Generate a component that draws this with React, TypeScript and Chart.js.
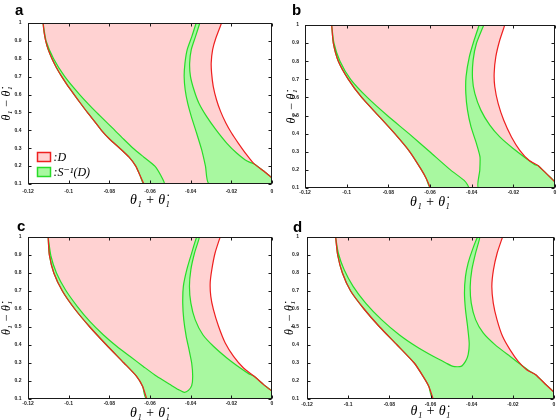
import React, { useEffect, useRef } from 'react';
import { Chart, registerables } from 'chart.js';

Chart.register(...registerables);

type Pt = [number, number];

// ---- axis ticks / labels ----
const xTickValues = [-0.12, -0.1, -0.08, -0.06, -0.04, -0.02, 0];
const xTickLabels = ['-0.12', '-0.1', '-0.08', '-0.06', '-0.04', '-0.02', '0'];
const yTickValues = [0.1, 0.2, 0.3, 0.4, 0.5, 0.6, 0.7, 0.8, 0.9, 1];
const yTickLabels = ['0.1', '0.2', '0.3', '0.4', '0.5', '0.6', '0.7', '0.8', '0.9', '1'];
const panelLetters = ['a', 'b', 'c', 'd'];
const seriesLabels = [':D', ':S\u207B\u00B9(D)'];
const xTitle = '\u03B8\u2081 + \u03B8\u0307\u2081';
const yTitle = '\u03B8\u2081 \u2212 \u03B8\u0307\u2081';

// ---- panel a ----
const aLeftRed: Pt[] = [[-0.1126, 1.0], [-0.1121, 0.95], [-0.1113, 0.9], [-0.11, 0.85], [-0.1082, 0.8], [-0.106, 0.75], [-0.1034, 0.7], [-0.1005, 0.65], [-0.0973, 0.6], [-0.0941, 0.55], [-0.0908, 0.5], [-0.0873, 0.45], [-0.0839, 0.4], [-0.0798, 0.35], [-0.0749, 0.3], [-0.0703, 0.25], [-0.067, 0.2], [-0.065, 0.15], [-0.063, 0.1]];
const aRightRed: Pt[] = [[0, 0.1335], [-0.0039, 0.1708], [-0.0089, 0.2137], [-0.0125, 0.264], [-0.0166, 0.329], [-0.0199, 0.385], [-0.0227, 0.441], [-0.0253, 0.506], [-0.0273, 0.571], [-0.0289, 0.646], [-0.0297, 0.72], [-0.0299, 0.776], [-0.0292, 0.851], [-0.0276, 0.916], [-0.0248, 1.0]];
const aGreenInner: Pt[] = [[-0.053, 0.1], [-0.0548, 0.15], [-0.0576, 0.2], [-0.063, 0.25], [-0.0683, 0.3], [-0.0729, 0.35], [-0.0773, 0.4], [-0.0863, 0.5], [-0.0946, 0.6], [-0.1019, 0.7], [-0.1074, 0.8], [-0.1111, 0.9], [-0.1126, 1.0]];
const aGreenMid: Pt[] = [[-0.0373, 1.0], [-0.0394, 0.925], [-0.0417, 0.851], [-0.0428, 0.776], [-0.0432, 0.702], [-0.0427, 0.627], [-0.0415, 0.553], [-0.0397, 0.478], [-0.0371, 0.385], [-0.0346, 0.292], [-0.0327, 0.199], [-0.0309, 0.1]];
const aGreenRight: Pt[] = [[-0.0355, 1.0], [-0.0376, 0.925], [-0.0397, 0.851], [-0.0405, 0.776], [-0.0401, 0.702], [-0.0384, 0.627], [-0.036, 0.553], [-0.0322, 0.478], [-0.0276, 0.404], [-0.0223, 0.329], [-0.0174, 0.273], [-0.0133, 0.236], [-0.0108, 0.221], [-0.0089, 0.2137]];

// ---- panel b ----
const bLeftRed: Pt[] = [[-0.1072, 1.0], [-0.1064, 0.9], [-0.104, 0.8], [-0.0992, 0.7], [-0.0928, 0.6], [-0.0848, 0.5], [-0.0769, 0.4], [-0.0697, 0.3], [-0.0641, 0.2], [-0.0617, 0.15], [-0.0598, 0.1]];
const bRightRed: Pt[] = [[0, 0.133], [-0.0041, 0.179], [-0.0079, 0.222], [-0.0125, 0.253], [-0.0169, 0.308], [-0.0209, 0.382], [-0.0246, 0.474], [-0.0273, 0.567], [-0.0289, 0.659], [-0.0292, 0.733], [-0.0284, 0.825], [-0.0265, 0.917], [-0.0241, 1.0]];
const bGreenInner: Pt[] = [[-0.0415, 0.1], [-0.042, 0.118], [-0.0436, 0.142], [-0.0502, 0.2], [-0.0601, 0.3], [-0.0701, 0.4], [-0.0805, 0.5], [-0.0901, 0.6], [-0.0981, 0.7], [-0.1032, 0.8], [-0.1061, 0.9], [-0.1072, 1.0]];
const bGreenMid: Pt[] = [[-0.0364, 1.0], [-0.0388, 0.917], [-0.0411, 0.825], [-0.0427, 0.714], [-0.0428, 0.622], [-0.042, 0.53], [-0.0403, 0.437], [-0.0377, 0.345], [-0.036, 0.272], [-0.0361, 0.198], [-0.0366, 0.1]];
const bGreenRight: Pt[] = [[-0.0342, 1.0], [-0.0377, 0.899], [-0.0393, 0.806], [-0.0396, 0.705], [-0.0385, 0.622], [-0.0356, 0.53], [-0.0313, 0.447], [-0.0265, 0.382], [-0.0201, 0.318], [-0.0137, 0.262], [-0.0097, 0.229], [-0.0079, 0.222]];

// ---- panel c ----
const cLeftRed: Pt[] = [[-0.1101, 1.0], [-0.1095, 0.9], [-0.1073, 0.8], [-0.1031, 0.7], [-0.097, 0.6], [-0.0896, 0.5], [-0.0814, 0.4], [-0.0728, 0.3], [-0.0666, 0.226], [-0.0636, 0.17], [-0.0616, 0.1]];
const cRightRed: Pt[] = [[0, 0.143], [-0.0041, 0.18], [-0.0088, 0.226], [-0.014, 0.272], [-0.0189, 0.337], [-0.023, 0.411], [-0.0263, 0.504], [-0.0288, 0.596], [-0.0301, 0.67], [-0.0304, 0.744], [-0.0296, 0.819], [-0.028, 0.911], [-0.0255, 1.0]];
const cGreenRight: Pt[] = [[-0.0357, 1.0], [-0.0381, 0.911], [-0.0399, 0.819], [-0.0406, 0.726], [-0.0399, 0.633], [-0.0378, 0.541], [-0.034, 0.457], [-0.0288, 0.393], [-0.0222, 0.328], [-0.0156, 0.272], [-0.0115, 0.241], [-0.0088, 0.226]];
const cGreenMid: Pt[] = [[-0.037, 1.0], [-0.0395, 0.911], [-0.0419, 0.819], [-0.0436, 0.726], [-0.0439, 0.633], [-0.0434, 0.541], [-0.0422, 0.448], [-0.0408, 0.374], [-0.0395, 0.3], [-0.039, 0.226], [-0.0395, 0.174], [-0.0411, 0.148], [-0.0431, 0.137]];
const cGreenInner: Pt[] = [[-0.046, 0.152], [-0.0501, 0.18], [-0.0567, 0.226], [-0.0633, 0.281], [-0.0699, 0.337], [-0.0764, 0.393], [-0.083, 0.457], [-0.0896, 0.531], [-0.0958, 0.615], [-0.1016, 0.707], [-0.106, 0.8], [-0.1087, 0.893], [-0.1101, 1.0]];

// ---- panel d ----
const dLeftRed: Pt[] = [[-0.1061, 1.0], [-0.1051, 0.9], [-0.1028, 0.8], [-0.0988, 0.7], [-0.0923, 0.6], [-0.0847, 0.5], [-0.0762, 0.4], [-0.0679, 0.3], [-0.0636, 0.226], [-0.0608, 0.17], [-0.0587, 0.1]];
const dRightRed: Pt[] = [[0, 0.137], [-0.0044, 0.185], [-0.0089, 0.235], [-0.0133, 0.263], [-0.0174, 0.309], [-0.0214, 0.374], [-0.025, 0.448], [-0.0277, 0.541], [-0.0295, 0.633], [-0.0302, 0.726], [-0.0294, 0.819], [-0.0276, 0.911], [-0.025, 1.0]];
const dGreenRight: Pt[] = [[-0.036, 1.0], [-0.0381, 0.911], [-0.0399, 0.819], [-0.0407, 0.726], [-0.0402, 0.633], [-0.0381, 0.541], [-0.0344, 0.467], [-0.0287, 0.402], [-0.0214, 0.337], [-0.0149, 0.281], [-0.0109, 0.248], [-0.0089, 0.235]];
const dGreenMid: Pt[] = [[-0.0371, 1.0], [-0.0396, 0.93], [-0.0417, 0.856], [-0.043, 0.781], [-0.0435, 0.689], [-0.043, 0.596], [-0.042, 0.504], [-0.0412, 0.411], [-0.0417, 0.346], [-0.043, 0.309], [-0.0452, 0.281]];
const dGreenInner: Pt[] = [[-0.049, 0.281], [-0.0525, 0.3], [-0.0587, 0.337], [-0.0671, 0.393], [-0.0752, 0.457], [-0.0838, 0.541], [-0.0915, 0.633], [-0.0976, 0.726], [-0.102, 0.819], [-0.1048, 0.911], [-0.1061, 1.0]];

// ---- styles ----
const RED = 'rgb(238,32,32)';
const GREEN = 'rgb(40,220,40)';
const PINK = 'rgb(255,210,210)';
const LIGHTGREEN = 'rgb(168,248,160)';
const SERIF = '"Liberation Serif", "DejaVu Serif", serif';
const TENSION = 0.2;

const MEET = 2; // index in right red curve where the green boundary joins it

function regionD(left: Pt[], right: Pt[]): Pt[] {
  return [...left, [0, 0.1], ...right];
}
function bandRegion(left: Pt[], inner: Pt[]): Pt[] {
  return [...left, ...inner];
}
function rightRegion(mid: Pt[], rightRed: Pt[], greenRight: Pt[]): Pt[] {
  return [...mid, [0, 0.1], ...rightRed.slice(0, MEET + 1), ...greenRight.slice(0, -1).reverse()];
}
function joinedRegion(left: Pt[], rightRed: Pt[], greenRight: Pt[], mid: Pt[], inner: Pt[]): Pt[] {
  return [...left, [0, 0.1], ...rightRed.slice(0, MEET + 1), ...greenRight.slice(0, -1).reverse(), ...mid, ...inner];
}

interface Spec {
  letter: string;
  cx: number; cy: number; cw: number; ch: number;
  L: number; T: number; R: number; B: number;
  letterX: number; letterY: number;
  xTitlePad: number; yTitlePad: number;
  xTickPad: number; yTickPad: number;
  legend: boolean;
  pink: Pt[];
  greens: Pt[][];
  reds: Pt[][];
}

const specs: Spec[] = [
  {
    letter: panelLetters[0], cx: 0, cy: 0, cw: 280, ch: 210, L: 28, T: 23, R: 272, B: 184,
    letterX: 15, letterY: 15, xTitlePad: 2.5, yTitlePad: 1, xTickPad: 4.5, yTickPad: 6.5, legend: true,
    pink: regionD(aLeftRed, aRightRed),
    greens: [bandRegion(aLeftRed, aGreenInner), rightRegion(aGreenMid, aRightRed, aGreenRight)],
    reds: [aLeftRed, aRightRed],
  },
  {
    letter: panelLetters[1], cx: 280, cy: 0, cw: 279, ch: 210, L: 305, T: 25, R: 555, B: 188,
    letterX: 12, letterY: 15, xTitlePad: 0.8, yTitlePad: 5.5, xTickPad: 2, yTickPad: 6, legend: false,
    pink: regionD(bLeftRed, bRightRed),
    greens: [bandRegion(bLeftRed, bGreenInner), rightRegion(bGreenMid, bRightRed, bGreenRight)],
    reds: [bLeftRed, bRightRed],
  },
  {
    letter: panelLetters[2], cx: 0, cy: 210, cw: 280, ch: 210, L: 28, T: 237, R: 272, B: 399,
    letterX: 17, letterY: 21, xTitlePad: 0, yTitlePad: 0.8, xTickPad: 1.4, yTickPad: 6.5, legend: false,
    pink: regionD(cLeftRed, cRightRed),
    greens: [joinedRegion(cLeftRed, cRightRed, cGreenRight, cGreenMid, cGreenInner)],
    reds: [cLeftRed, cRightRed],
  },
  {
    letter: panelLetters[3], cx: 280, cy: 210, cw: 279, ch: 210, L: 307, T: 237, R: 554, B: 399,
    letterX: 13, letterY: 22, xTitlePad: 1.5, yTitlePad: 4, xTickPad: 2.7, yTickPad: 8, legend: false,
    pink: regionD(dLeftRed, dRightRed),
    greens: [joinedRegion(dLeftRed, dRightRed, dGreenRight, dGreenMid, dGreenInner)],
    reds: [dLeftRed, dRightRed],
  },
];

const toXY = (pts: Pt[]) => pts.map(([x, y]) => ({ x, y }));

const decoPlugin = {
  id: 'deco',
  afterDraw(chart: any, _args: any, opts: any) {
    const { ctx, chartArea } = chart;
    const xs = chart.scales.x;
    const ys = chart.scales.y;
    const l = Math.round(chartArea.left) + 0.5;
    const r = Math.round(chartArea.right) - 0.5;
    const t = Math.round(chartArea.top) + 0.5;
    const b = Math.round(chartArea.bottom) - 0.5;
    ctx.save();
    ctx.strokeStyle = '#1a1a1a';
    ctx.lineWidth = 1;
    ctx.strokeRect(l, t, r - l, b - t);
    const tl = 3;
    ctx.beginPath();
    for (const v of xTickValues) {
      const px = Math.round(xs.getPixelForValue(v)) + 0.5;
      ctx.moveTo(px, b); ctx.lineTo(px, b - tl);
      ctx.moveTo(px, t); ctx.lineTo(px, t + tl);
    }
    for (const v of yTickValues) {
      const py = Math.round(ys.getPixelForValue(v)) + 0.5;
      ctx.moveTo(l, py); ctx.lineTo(l + tl, py);
      ctx.moveTo(r, py); ctx.lineTo(r - tl, py);
    }
    ctx.stroke();

    // panel letter
    ctx.fillStyle = '#000';
    ctx.font = 'bold 15px "Liberation Sans", Arial, sans-serif';
    ctx.textBaseline = 'alphabetic';
    ctx.textAlign = 'left';
    ctx.fillText(opts.letter, opts.letterX, opts.letterY);

    if (opts.legend) {
      const entries = [
        { fill: PINK, stroke: RED, label: seriesLabels[0], y: chartArea.bottom - 32 },
        { fill: LIGHTGREEN, stroke: GREEN, label: seriesLabels[1], y: chartArea.bottom - 17 },
      ];
      ctx.font = `italic 12px ${SERIF}`;
      ctx.textBaseline = 'middle';
      for (const e of entries) {
        const bx = Math.round(chartArea.left + 9) + 0.5;
        const by = Math.round(e.y) + 0.5;
        ctx.fillStyle = e.fill;
        ctx.fillRect(bx, by, 13, 9);
        ctx.strokeStyle = e.stroke;
        ctx.lineWidth = 1.5;
        ctx.strokeRect(bx, by, 13, 9);
        ctx.fillStyle = '#000';
        ctx.fillText(e.label, bx + 16, by + 5);
      }
    }
    ctx.restore();
  },
};

function makeConfig(s: Spec): any {
  const datasets: any[] = [];
  datasets.push({
    label: seriesLabels[0], data: toXY(s.pink), showLine: true, fill: 'shape',
    backgroundColor: PINK, borderWidth: 0, borderColor: 'rgba(0,0,0,0)', pointRadius: 0, tension: TENSION, order: 3,
  });
  s.greens.forEach((g) => datasets.push({
    label: seriesLabels[1], data: toXY(g), showLine: true, fill: 'shape',
    backgroundColor: LIGHTGREEN, borderColor: GREEN, borderWidth: 1.2, pointRadius: 0, tension: TENSION, order: 2,
  }));
  s.reds.forEach((rd) => datasets.push({
    label: seriesLabels[0], data: toXY(rd), showLine: true, fill: false,
    borderColor: RED, borderWidth: 1.2, pointRadius: 0, tension: TENSION, order: 1,
  }));
  const tickFont = { size: 5, weight: 'bold', family: '"Liberation Sans", Arial, sans-serif' };
  return {
    type: 'scatter',
    data: { datasets },
    options: {
      animation: false,
      responsive: false,
      maintainAspectRatio: false,
      events: [],
      layout: { padding: { left: 0, top: s.T - s.cy, right: s.cx + s.cw - s.R, bottom: 0 } },
      plugins: {
        legend: { display: false },
        tooltip: { enabled: false },
        deco: { letter: s.letter, letterX: s.letterX, letterY: s.letterY, legend: s.legend },
      },
      scales: {
        x: {
          type: 'linear', min: -0.12, max: 0,
          afterBuildTicks: (ax: any) => { ax.ticks = xTickValues.map((v) => ({ value: v })); },
          afterFit: (ax: any) => { ax.height = s.cy + s.ch - s.B; },
          ticks: {
            callback: (_v: any, i: number) => xTickLabels[i],
            font: tickFont, color: '#222', padding: s.xTickPad, autoSkip: false, maxRotation: 0, minRotation: 0,
          },
          grid: { display: false, drawTicks: false },
          border: { display: false },
          title: {
            display: true, text: xTitle, color: '#000',
            font: { family: SERIF, size: 14, style: 'italic', lineHeight: 1 },
            padding: { top: 0, bottom: s.xTitlePad },
          },
        },
        y: {
          type: 'linear', min: 0.1, max: 1,
          afterBuildTicks: (ax: any) => { ax.ticks = yTickValues.map((v) => ({ value: v })); },
          afterFit: (ax: any) => { ax.width = s.L - s.cx; },
          ticks: {
            callback: (_v: any, i: number) => yTickLabels[i],
            font: tickFont, color: '#222', padding: s.yTickPad, autoSkip: false,
          },
          grid: { display: false, drawTicks: false },
          border: { display: false },
          title: {
            display: true, text: yTitle, color: '#000',
            font: { family: SERIF, size: 12, style: 'italic', lineHeight: 1 },
            padding: { top: s.yTitlePad, bottom: 0 },
          },
        },
      },
    },
    plugins: [decoPlugin],
  };
}

function Panel({ spec }: { spec: Spec }) {
  const ref = useRef<HTMLCanvasElement>(null);
  useEffect(() => {
    const chart = new Chart(ref.current as HTMLCanvasElement, makeConfig(spec));
    return () => chart.destroy();
  }, [spec]);
  return (
    <canvas
      ref={ref}
      width={spec.cw}
      height={spec.ch}
      style={{ position: 'absolute', left: spec.cx, top: spec.cy, width: spec.cw, height: spec.ch }}
    />
  );
}

export default function App() {
  return (
    <div style={{ position: 'absolute', left: 0, top: 0, width: 559, height: 420, background: '#fff', overflow: 'hidden' }}>
      {specs.map((s) => <Panel key={s.letter} spec={s} />)}
    </div>
  );
}
